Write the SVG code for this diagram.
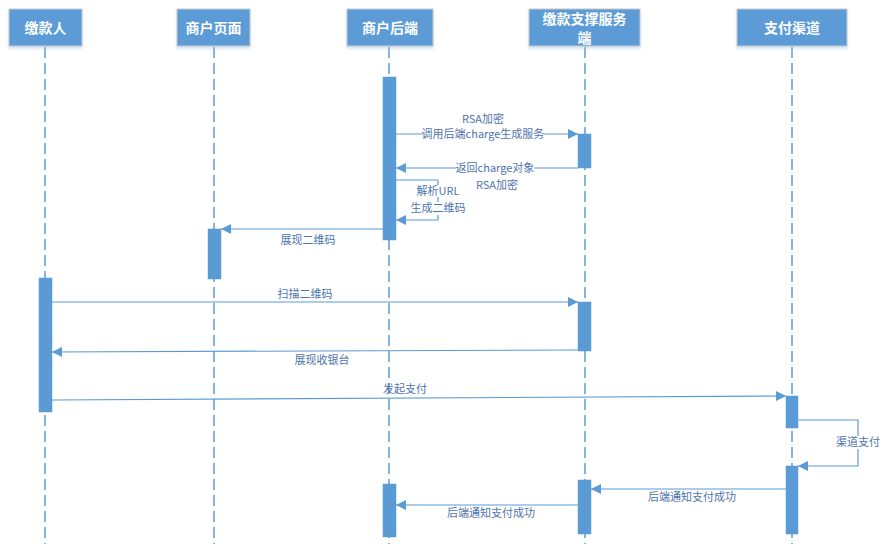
<svg xmlns="http://www.w3.org/2000/svg" width="887" height="544" viewBox="0 0 887 544">
<defs>
<style>
.hdr{fill:#5B9BD5;stroke:#C9C9C9;stroke-width:1;filter:url(#sh)}
.ht{font-family:"Noto Sans CJK SC","Noto Sans",sans-serif;font-size:14px;font-weight:bold;fill:#FFFFFF;text-anchor:middle}
.life{stroke:#5B9BD5;stroke-width:1.5;stroke-dasharray:11 5;fill:none}
.act{fill:#5B9BD5;stroke:#5B9BD5;stroke-width:0.5}
.msg{stroke:#5B9BD5;stroke-width:1.2;fill:none;marker-end:url(#arr)}
.lbl{font-family:"Noto Sans CJK SC","Noto Sans",sans-serif;font-size:11px;fill:#4E74AD;text-anchor:middle}
.bg{fill:#FFFFFF}
</style>
<filter id="sh" x="-10%" y="-10%" width="120%" height="140%">
<feDropShadow dx="0" dy="2" stdDeviation="1.5" flood-color="#9DC3E6" flood-opacity="0.5"/>
</filter>
<marker id="arr" viewBox="0 0 10 10" refX="10" refY="5" markerWidth="10" markerHeight="10" markerUnits="userSpaceOnUse" orient="auto">
<path d="M0,0 L10,5 L0,10 Z" fill="#5B9BD5"/>
</marker>
</defs>
<rect width="887" height="544" fill="#FFFFFF"/>

<g id="lifelines">
<line class="life" x1="45" y1="47" x2="45" y2="544"/>
<line class="life" x1="214" y1="47" x2="214" y2="544"/>
<line class="life" x1="389" y1="47" x2="389" y2="544"/>
<line class="life" x1="585" y1="47" x2="585" y2="544"/>
<line class="life" x1="792" y1="47" x2="792" y2="544"/>
</g>

<g id="n_payer">
<rect class="hdr" x="9" y="9" width="73" height="37"/>
<text class="ht" x="45.5" y="32.5">缴款人</text>
</g>
<g id="n_page">
<rect class="hdr" x="177" y="9" width="73" height="37"/>
<text class="ht" x="213.5" y="32.5">商户页面</text>
</g>
<g id="n_backend">
<rect class="hdr" x="347" y="9" width="86" height="37"/>
<text class="ht" x="390" y="32.5">商户后端</text>
</g>
<g id="n_service">
<rect class="hdr" x="529" y="9" width="111" height="37"/>
<text class="ht" x="584.5" y="23.5">缴款支撑服务</text>
<text class="ht" x="584.5" y="42.5">端</text>
</g>
<g id="n_channel">
<rect class="hdr" x="737" y="9" width="110" height="37"/>
<text class="ht" x="792" y="32.5">支付渠道</text>
</g>

<g id="activations">
<rect class="act" x="383" y="77" width="13" height="163"/>
<rect class="act" x="578" y="134" width="13" height="34"/>
<rect class="act" x="208" y="229" width="13" height="50"/>
<rect class="act" x="39" y="278" width="13" height="134"/>
<rect class="act" x="578" y="302" width="13" height="49"/>
<rect class="act" x="786" y="396" width="12" height="32"/>
<rect class="act" x="786" y="466" width="12" height="68"/>
<rect class="act" x="578" y="480" width="13" height="54"/>
<rect class="act" x="383" y="484" width="13" height="53"/>
</g>

<g id="connectors">
<line class="msg" x1="396" y1="134" x2="578" y2="134"/>
<line class="msg" x1="578" y1="168" x2="396" y2="168"/>
<polyline class="msg" points="396,180 438,180 438,220 396,220"/>
<line class="msg" x1="383" y1="229" x2="221" y2="229"/>
<line class="msg" x1="52" y1="302" x2="578" y2="302"/>
<line class="msg" x1="578" y1="350" x2="52" y2="352"/>
<line class="msg" x1="52" y1="400" x2="786" y2="396"/>
<polyline class="msg" points="798,420 858,420 858,466 798,466"/>
<line class="msg" x1="786" y1="489" x2="591" y2="489"/>
<line class="msg" x1="578" y1="505" x2="396" y2="505"/>
</g>

<g id="labels">
<text class="lbl" x="483" y="123">RSA加密</text>
<rect class="bg" x="423" y="128" width="120" height="13"/>
<text class="lbl" x="483" y="138">调用后端charge生成服务</text>
<rect class="bg" x="456" y="162" width="78" height="13"/>
<text class="lbl" x="495" y="172">返回charge对象</text>
<text class="lbl" x="497" y="189">RSA加密</text>
<rect class="bg" x="416" y="185" width="44" height="12"/>
<text class="lbl" x="438" y="195">解析URL</text>
<rect class="bg" x="409" y="202" width="59" height="13"/>
<text class="lbl" x="438" y="212">生成二维码</text>
<text class="lbl" x="308" y="244">展现二维码</text>
<text class="lbl" x="305" y="298">扫描二维码</text>
<text class="lbl" x="322" y="364">展现收银台</text>
<text class="lbl" x="405" y="393">发起支付</text>
<rect class="bg" x="835" y="436" width="46" height="13"/>
<text class="lbl" x="858" y="446">渠道支付</text>
<text class="lbl" x="692" y="501">后端通知支付成功</text>
<text class="lbl" x="491" y="517">后端通知支付成功</text>
</g>
</svg>
